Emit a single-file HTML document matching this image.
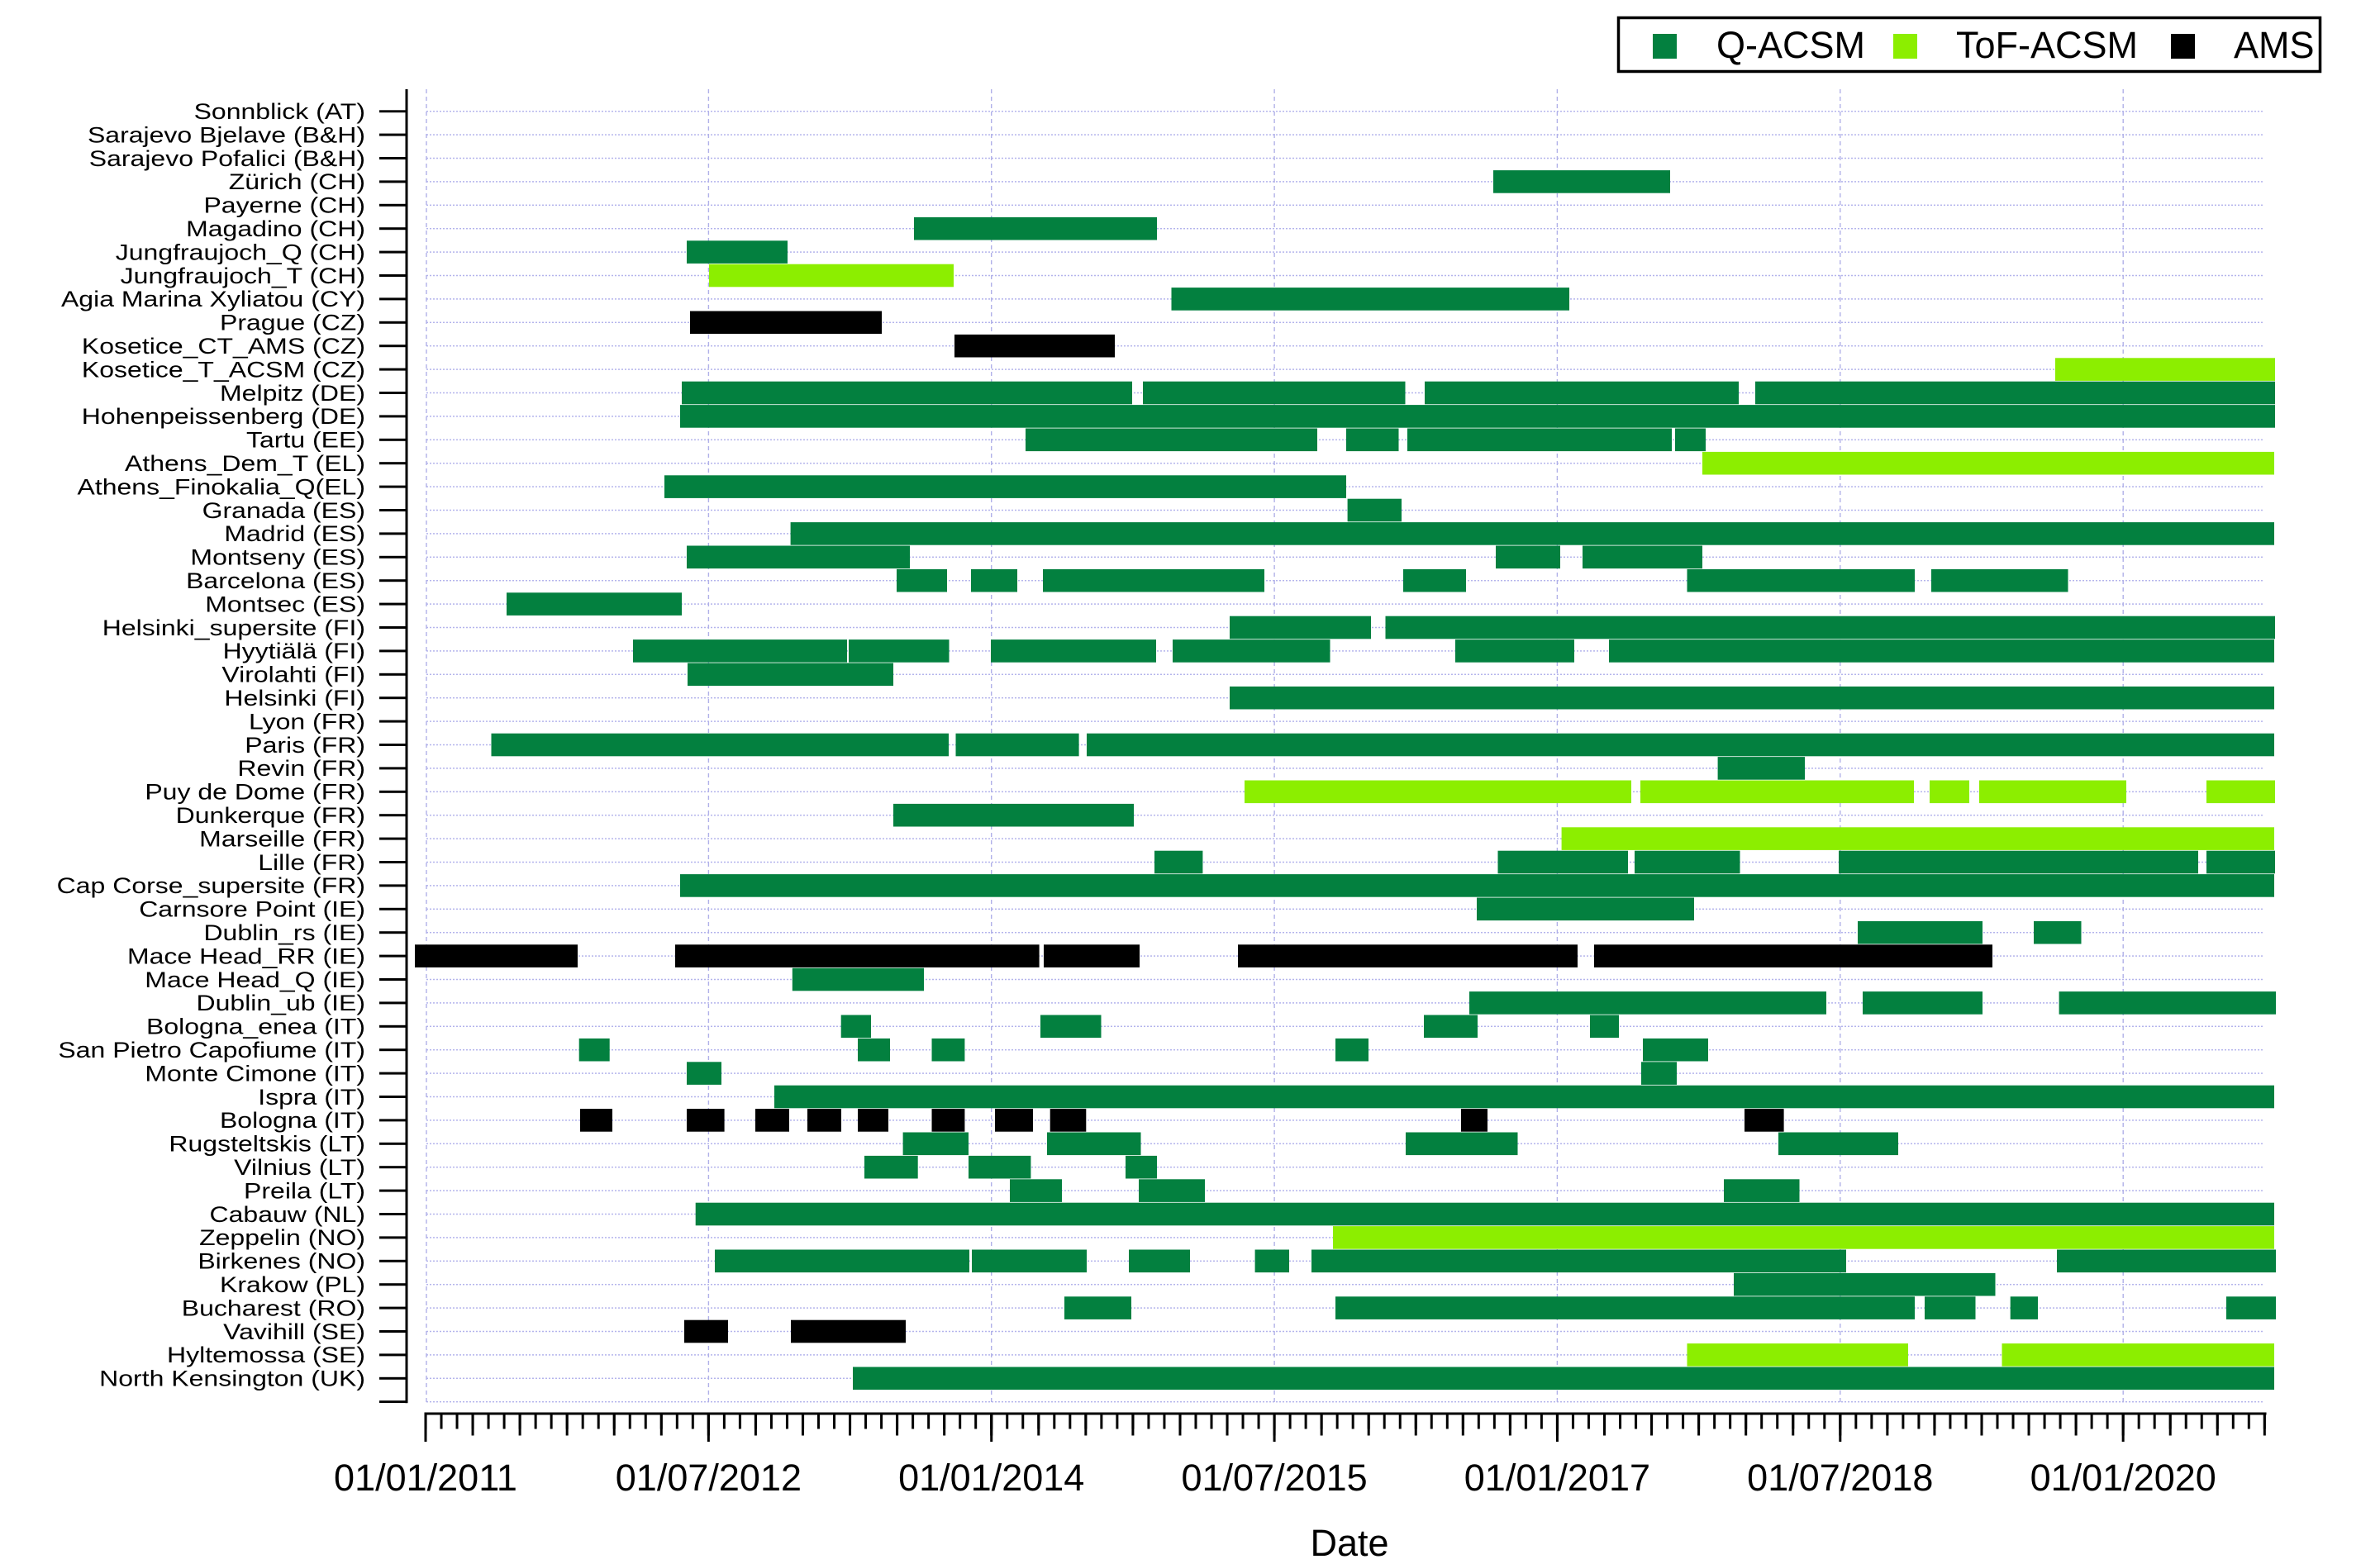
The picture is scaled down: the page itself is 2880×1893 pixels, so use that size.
<!DOCTYPE html>
<html><head><meta charset="utf-8"><style>
html,body{margin:0;padding:0;background:#fff;}
svg{display:block;}
text{font-family:"Liberation Sans",Arial,sans-serif;fill:#000;}
.q{fill:#03803f}.t{fill:#8cee00}.a{fill:#000}
.yl{font-size:32px;text-anchor:end}
.xl{font-size:45px;text-anchor:middle}
</style></head><body>
<svg width="2880" height="1893" viewBox="0 0 2880 1893" xmlns="http://www.w3.org/2000/svg">
<defs>
<pattern id="hg" x="516" y="133.95" width="4" height="28.4" patternUnits="userSpaceOnUse"><rect x="0" y="0" width="2" height="1.5" fill="#b4b4ec"/></pattern>
<pattern id="vg" x="0" y="108" width="2880" height="9" patternUnits="userSpaceOnUse"><rect x="0" y="0" width="2880" height="5" fill="#b0b0e8"/></pattern>
<pattern id="ytk" x="0" y="133.2" width="2880" height="28.4" patternUnits="userSpaceOnUse"><rect x="0" y="0" width="2880" height="3" fill="#000"/></pattern>
<pattern id="pm" x="513.5" y="0" width="19.02" height="1893" patternUnits="userSpaceOnUse"><rect x="0" y="0" width="3" height="1893" fill="#000"/></pattern>
<pattern id="pq" x="513.5" y="0" width="57.06" height="1893" patternUnits="userSpaceOnUse"><rect x="0" y="0" width="3" height="1893" fill="#000"/></pattern>
<pattern id="pM" x="513.5" y="0" width="342.36" height="1893" patternUnits="userSpaceOnUse"><rect x="0" y="0" width="3" height="1893" fill="#000"/></pattern>
</defs>
<rect width="2880" height="1893" fill="#fff"/>
<rect x="516" y="133.95" width="2223" height="1565" fill="url(#hg)"/>
<g fill="url(#vg)">
<rect x="515.3" y="108" width="1.4" height="1589"/>
<rect x="856.7" y="108" width="1.4" height="1589"/>
<rect x="1199" y="108" width="1.4" height="1589"/>
<rect x="1541.4" y="108" width="1.4" height="1589"/>
<rect x="1883.7" y="108" width="1.4" height="1589"/>
<rect x="2226.1" y="108" width="1.4" height="1589"/>
<rect x="2568.5" y="108" width="1.4" height="1589"/>
</g>
<g>
<rect class="q" x="1807" y="206.1" width="214" height="27.6"/>
<rect class="q" x="1106" y="262.9" width="294" height="27.6"/>
<rect class="q" x="831" y="291.3" width="122" height="27.6"/>
<rect class="t" x="858" y="319.7" width="296" height="27.6"/>
<rect class="q" x="1417.5" y="348.1" width="481.5" height="27.6"/>
<rect class="a" x="835" y="376.5" width="232" height="27.6"/>
<rect class="a" x="1155" y="404.9" width="194" height="27.6"/>
<rect class="t" x="2487" y="433.3" width="266" height="27.6"/>
<rect class="q" x="825" y="461.7" width="545" height="27.6"/>
<rect class="q" x="1383" y="461.7" width="317.5" height="27.6"/>
<rect class="q" x="1724" y="461.7" width="380" height="27.6"/>
<rect class="q" x="2124" y="461.7" width="629" height="27.6"/>
<rect class="q" x="823" y="490.1" width="1930" height="27.6"/>
<rect class="q" x="1241" y="518.5" width="353" height="27.6"/>
<rect class="q" x="1629" y="518.5" width="63.5" height="27.6"/>
<rect class="q" x="1703" y="518.5" width="320" height="27.6"/>
<rect class="q" x="2027" y="518.5" width="37" height="27.6"/>
<rect class="t" x="2060" y="546.9" width="692" height="27.6"/>
<rect class="q" x="804" y="575.3" width="825" height="27.6"/>
<rect class="q" x="1630.6" y="603.7" width="65.4" height="27.6"/>
<rect class="q" x="956.6" y="632.1" width="1795.4" height="27.6"/>
<rect class="q" x="831" y="660.5" width="270" height="27.6"/>
<rect class="q" x="1810" y="660.5" width="78" height="27.6"/>
<rect class="q" x="1915" y="660.5" width="145" height="27.6"/>
<rect class="q" x="1085" y="688.9" width="61" height="27.6"/>
<rect class="q" x="1175" y="688.9" width="56" height="27.6"/>
<rect class="q" x="1262" y="688.9" width="268" height="27.6"/>
<rect class="q" x="1698" y="688.9" width="76" height="27.6"/>
<rect class="q" x="2041.5" y="688.9" width="275.5" height="27.6"/>
<rect class="q" x="2337" y="688.9" width="165.5" height="27.6"/>
<rect class="q" x="613" y="717.3" width="212" height="27.6"/>
<rect class="q" x="1488" y="745.7" width="171" height="27.6"/>
<rect class="q" x="1676.5" y="745.7" width="1076.5" height="27.6"/>
<rect class="q" x="766" y="774.1" width="259" height="27.6"/>
<rect class="q" x="1027" y="774.1" width="121.5" height="27.6"/>
<rect class="q" x="1199" y="774.1" width="200" height="27.6"/>
<rect class="q" x="1419" y="774.1" width="190.5" height="27.6"/>
<rect class="q" x="1761" y="774.1" width="144" height="27.6"/>
<rect class="q" x="1947" y="774.1" width="805" height="27.6"/>
<rect class="q" x="832" y="802.5" width="249" height="27.6"/>
<rect class="q" x="1488" y="830.9" width="1264" height="27.6"/>
<rect class="q" x="594.5" y="887.7" width="553.5" height="27.6"/>
<rect class="q" x="1156.5" y="887.7" width="149.1" height="27.6"/>
<rect class="q" x="1315" y="887.7" width="1437" height="27.6"/>
<rect class="q" x="2078.6" y="916.1" width="105.4" height="27.6"/>
<rect class="t" x="1506" y="944.5" width="468" height="27.6"/>
<rect class="t" x="1985" y="944.5" width="331" height="27.6"/>
<rect class="t" x="2335" y="944.5" width="48" height="27.6"/>
<rect class="t" x="2395" y="944.5" width="178" height="27.6"/>
<rect class="t" x="2670" y="944.5" width="83" height="27.6"/>
<rect class="q" x="1081" y="972.9" width="291" height="27.6"/>
<rect class="t" x="1889.6" y="1001.3" width="862.4" height="27.6"/>
<rect class="q" x="1397" y="1029.7" width="58.4" height="27.6"/>
<rect class="q" x="1812.5" y="1029.7" width="157.5" height="27.6"/>
<rect class="q" x="1978" y="1029.7" width="127.5" height="27.6"/>
<rect class="q" x="2225" y="1029.7" width="435" height="27.6"/>
<rect class="q" x="2670" y="1029.7" width="83" height="27.6"/>
<rect class="q" x="823" y="1058.1" width="1929" height="27.6"/>
<rect class="q" x="1787" y="1086.5" width="263" height="27.6"/>
<rect class="q" x="2248" y="1114.9" width="151" height="27.6"/>
<rect class="q" x="2461" y="1114.9" width="57.5" height="27.6"/>
<rect class="a" x="502" y="1143.3" width="197" height="27.6"/>
<rect class="a" x="817" y="1143.3" width="440.6" height="27.6"/>
<rect class="a" x="1263" y="1143.3" width="116" height="27.6"/>
<rect class="a" x="1498" y="1143.3" width="411" height="27.6"/>
<rect class="a" x="1929" y="1143.3" width="482" height="27.6"/>
<rect class="q" x="958.8" y="1171.7" width="159.2" height="27.6"/>
<rect class="q" x="1778" y="1200.1" width="432" height="27.6"/>
<rect class="q" x="2254" y="1200.1" width="145" height="27.6"/>
<rect class="q" x="2491.6" y="1200.1" width="262.4" height="27.6"/>
<rect class="q" x="1017.7" y="1228.5" width="36.3" height="27.6"/>
<rect class="q" x="1259" y="1228.5" width="73.5" height="27.6"/>
<rect class="q" x="1723" y="1228.5" width="65" height="27.6"/>
<rect class="q" x="1924" y="1228.5" width="35" height="27.6"/>
<rect class="q" x="700.7" y="1256.9" width="37" height="27.6"/>
<rect class="q" x="1038" y="1256.9" width="39" height="27.6"/>
<rect class="q" x="1127.5" y="1256.9" width="39.9" height="27.6"/>
<rect class="q" x="1616" y="1256.9" width="40" height="27.6"/>
<rect class="q" x="1988" y="1256.9" width="79" height="27.6"/>
<rect class="q" x="831" y="1285.3" width="42" height="27.6"/>
<rect class="q" x="1986" y="1285.3" width="43" height="27.6"/>
<rect class="q" x="937" y="1313.7" width="1815" height="27.6"/>
<rect class="a" x="702" y="1342.1" width="39" height="27.6"/>
<rect class="a" x="831" y="1342.1" width="45.6" height="27.6"/>
<rect class="a" x="914" y="1342.1" width="41" height="27.6"/>
<rect class="a" x="977" y="1342.1" width="41" height="27.6"/>
<rect class="a" x="1038" y="1342.1" width="37" height="27.6"/>
<rect class="a" x="1127.5" y="1342.1" width="39.9" height="27.6"/>
<rect class="a" x="1204" y="1342.1" width="46" height="27.6"/>
<rect class="a" x="1270.7" y="1342.1" width="43.6" height="27.6"/>
<rect class="a" x="1768" y="1342.1" width="32" height="27.6"/>
<rect class="a" x="2111" y="1342.1" width="47.6" height="27.6"/>
<rect class="q" x="1092.6" y="1370.5" width="79.4" height="27.6"/>
<rect class="q" x="1267" y="1370.5" width="113.5" height="27.6"/>
<rect class="q" x="1701" y="1370.5" width="135.5" height="27.6"/>
<rect class="q" x="2152" y="1370.5" width="145" height="27.6"/>
<rect class="q" x="1046" y="1398.9" width="64.7" height="27.6"/>
<rect class="q" x="1172" y="1398.9" width="75.4" height="27.6"/>
<rect class="q" x="1362" y="1398.9" width="38" height="27.6"/>
<rect class="q" x="1222" y="1427.3" width="63" height="27.6"/>
<rect class="q" x="1378" y="1427.3" width="80" height="27.6"/>
<rect class="q" x="2086" y="1427.3" width="91.5" height="27.6"/>
<rect class="q" x="841.7" y="1455.7" width="1910.3" height="27.6"/>
<rect class="t" x="1613" y="1484.1" width="1139" height="27.6"/>
<rect class="q" x="865" y="1512.5" width="308" height="27.6"/>
<rect class="q" x="1176" y="1512.5" width="139" height="27.6"/>
<rect class="q" x="1366" y="1512.5" width="74" height="27.6"/>
<rect class="q" x="1518.6" y="1512.5" width="41.4" height="27.6"/>
<rect class="q" x="1587" y="1512.5" width="647" height="27.6"/>
<rect class="q" x="2489" y="1512.5" width="265" height="27.6"/>
<rect class="q" x="2098" y="1540.9" width="316.5" height="27.6"/>
<rect class="q" x="1288" y="1569.3" width="81" height="27.6"/>
<rect class="q" x="1616" y="1569.3" width="701" height="27.6"/>
<rect class="q" x="2329" y="1569.3" width="61.5" height="27.6"/>
<rect class="q" x="2432.7" y="1569.3" width="33.3" height="27.6"/>
<rect class="q" x="2694" y="1569.3" width="60" height="27.6"/>
<rect class="a" x="828" y="1597.7" width="53" height="27.6"/>
<rect class="a" x="957" y="1597.7" width="139" height="27.6"/>
<rect class="t" x="2041.5" y="1626.1" width="267.5" height="27.6"/>
<rect class="t" x="2422.5" y="1626.1" width="329.5" height="27.6"/>
<rect class="q" x="1032" y="1654.5" width="1720" height="27.6"/>
</g>
<!-- y axis -->
<rect x="490.5" y="108" width="3" height="1590.2" fill="#000"/>
<rect x="459" y="133.2" width="33" height="1565" fill="url(#ytk)"/>
<!-- x axis -->
<rect x="513.5" y="1709.5" width="2229" height="3" fill="#000"/>
<rect x="513.5" y="1711" width="2229" height="18.5" fill="url(#pm)"/>
<rect x="513.5" y="1711" width="2229" height="26.5" fill="url(#pq)"/>
<rect x="513.5" y="1711" width="2229" height="34" fill="url(#pM)"/>
<g transform="scale(1,0.85)">
<text class="yl" x="442" y="169.41">Sonnblick (AT)</text>
<text class="yl" x="442" y="202.82">Sarajevo Bjelave (B&amp;H)</text>
<text class="yl" x="442" y="236.24">Sarajevo Pofalici (B&amp;H)</text>
<text class="yl" x="442" y="269.65">Zürich (CH)</text>
<text class="yl" x="442" y="303.06">Payerne (CH)</text>
<text class="yl" x="442" y="336.47">Magadino (CH)</text>
<text class="yl" x="442" y="369.88">Jungfraujoch_Q (CH)</text>
<text class="yl" x="442" y="403.29">Jungfraujoch_T (CH)</text>
<text class="yl" x="442" y="436.71">Agia Marina Xyliatou (CY)</text>
<text class="yl" x="442" y="470.12">Prague (CZ)</text>
<text class="yl" x="442" y="503.53">Kosetice_CT_AMS (CZ)</text>
<text class="yl" x="442" y="536.94">Kosetice_T_ACSM (CZ)</text>
<text class="yl" x="442" y="570.35">Melpitz (DE)</text>
<text class="yl" x="442" y="603.76">Hohenpeissenberg (DE)</text>
<text class="yl" x="442" y="637.18">Tartu (EE)</text>
<text class="yl" x="442" y="670.59">Athens_Dem_T (EL)</text>
<text class="yl" x="442" y="704.00">Athens_Finokalia_Q(EL)</text>
<text class="yl" x="442" y="737.41">Granada (ES)</text>
<text class="yl" x="442" y="770.82">Madrid (ES)</text>
<text class="yl" x="442" y="804.24">Montseny (ES)</text>
<text class="yl" x="442" y="837.65">Barcelona (ES)</text>
<text class="yl" x="442" y="871.06">Montsec (ES)</text>
<text class="yl" x="442" y="904.47">Helsinki_supersite (FI)</text>
<text class="yl" x="442" y="937.88">Hyytiälä (FI)</text>
<text class="yl" x="442" y="971.29">Virolahti (FI)</text>
<text class="yl" x="442" y="1004.71">Helsinki (FI)</text>
<text class="yl" x="442" y="1038.12">Lyon (FR)</text>
<text class="yl" x="442" y="1071.53">Paris (FR)</text>
<text class="yl" x="442" y="1104.94">Revin (FR)</text>
<text class="yl" x="442" y="1138.35">Puy de Dome (FR)</text>
<text class="yl" x="442" y="1171.76">Dunkerque (FR)</text>
<text class="yl" x="442" y="1205.18">Marseille (FR)</text>
<text class="yl" x="442" y="1238.59">Lille (FR)</text>
<text class="yl" x="442" y="1272.00">Cap Corse_supersite (FR)</text>
<text class="yl" x="442" y="1305.41">Carnsore Point (IE)</text>
<text class="yl" x="442" y="1338.82">Dublin_rs (IE)</text>
<text class="yl" x="442" y="1372.24">Mace Head_RR (IE)</text>
<text class="yl" x="442" y="1405.65">Mace Head_Q (IE)</text>
<text class="yl" x="442" y="1439.06">Dublin_ub (IE)</text>
<text class="yl" x="442" y="1472.47">Bologna_enea (IT)</text>
<text class="yl" x="442" y="1505.88">San Pietro Capofiume (IT)</text>
<text class="yl" x="442" y="1539.29">Monte Cimone (IT)</text>
<text class="yl" x="442" y="1572.71">Ispra (IT)</text>
<text class="yl" x="442" y="1606.12">Bologna (IT)</text>
<text class="yl" x="442" y="1639.53">Rugsteltskis (LT)</text>
<text class="yl" x="442" y="1672.94">Vilnius (LT)</text>
<text class="yl" x="442" y="1706.35">Preila (LT)</text>
<text class="yl" x="442" y="1739.76">Cabauw (NL)</text>
<text class="yl" x="442" y="1773.18">Zeppelin (NO)</text>
<text class="yl" x="442" y="1806.59">Birkenes (NO)</text>
<text class="yl" x="442" y="1840.00">Krakow (PL)</text>
<text class="yl" x="442" y="1873.41">Bucharest (RO)</text>
<text class="yl" x="442" y="1906.82">Vavihill (SE)</text>
<text class="yl" x="442" y="1940.24">Hyltemossa (SE)</text>
<text class="yl" x="442" y="1973.65">North Kensington (UK)</text>
</g>
<text class="xl" x="515" y="1804">01/01/2011</text>
<text class="xl" x="857.4" y="1804">01/07/2012</text>
<text class="xl" x="1199.7" y="1804">01/01/2014</text>
<text class="xl" x="1542.1" y="1804">01/07/2015</text>
<text class="xl" x="1884.4" y="1804">01/01/2017</text>
<text class="xl" x="2226.8" y="1804">01/07/2018</text>
<text class="xl" x="2569.2" y="1804">01/01/2020</text>
<text class="xl" x="1633" y="1883">Date</text>
<!-- legend -->
<rect x="1958.5" y="21.5" width="849" height="65" fill="#fff" stroke="#000" stroke-width="3.5"/>
<rect class="q" x="2000" y="41" width="29" height="30"/>
<text x="2077" y="70" style="font-size:45px">Q-ACSM</text>
<rect class="t" x="2291" y="41" width="29" height="30"/>
<text x="2367" y="70" style="font-size:45px">ToF-ACSM</text>
<rect class="a" x="2627" y="41" width="29" height="30"/>
<text x="2703" y="70" style="font-size:45px">AMS</text>
</svg>
</body></html>
